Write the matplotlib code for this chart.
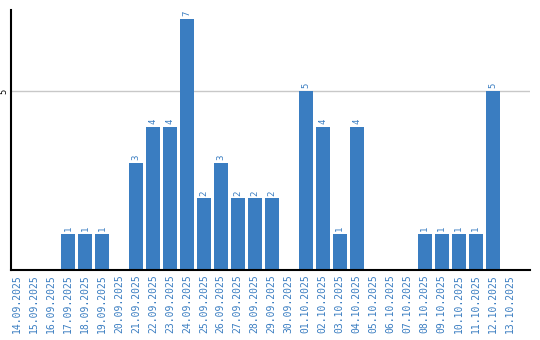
import matplotlib
matplotlib.use('Agg')
import matplotlib.pyplot as plt
import numpy as np

dates = ['14.09.2025', '15.09.2025', '16.09.2025', '17.09.2025', '18.09.2025',
         '19.09.2025', '20.09.2025', '21.09.2025', '22.09.2025', '23.09.2025',
         '24.09.2025', '25.09.2025', '26.09.2025', '27.09.2025', '28.09.2025',
         '29.09.2025', '30.09.2025', '01.10.2025', '02.10.2025', '03.10.2025',
         '04.10.2025', '05.10.2025', '06.10.2025', '07.10.2025', '08.10.2025',
         '09.10.2025', '10.10.2025', '11.10.2025', '12.10.2025', '13.10.2025']
counts = [0, 0, 0, 1, 1, 1, 0, 3, 4, 4, 7, 2, 3, 2, 2, 2, 0, 5, 4, 1, 4,
          0, 0, 0, 1, 1, 1, 1, 5, 0]

blue = '#3a7dc1'
fig = plt.figure(figsize=(5.4, 3.4), dpi=100)
ax = fig.add_axes([11 / 540, 70 / 340, 519 / 540, 260 / 340])

x = np.arange(len(dates))
ax.bar(x, counts, width=0.82, color=blue, zorder=2)
for i, c in enumerate(counts):
    if c > 0:
        ax.text(x[i], c + 0.08, str(c), rotation=90, ha='center', va='bottom',
                fontsize=6.5, color=blue, family='DejaVu Sans Mono')

ax.set_xlim(-0.35, 30.2)
ax.set_ylim(0, 7.26)
ax.set_yticks([5])
ax.set_yticklabels(['5'], rotation=90, va='center', fontsize=6)
ax.yaxis.grid(True, color='#c8c8c8', linewidth=1, zorder=0)
ax.tick_params(axis='y', length=0, pad=2)
ax.set_xticks(x)
ax.set_xticklabels(dates, rotation=90, fontsize=7, color=blue,
                   family='DejaVu Sans Mono')
ax.tick_params(axis='x', length=0, pad=3)
for s in ['top', 'right']:
    ax.spines[s].set_visible(False)
ax.spines['left'].set_linewidth(1.5)
ax.spines['bottom'].set_linewidth(1.5)

fig.savefig('out.png', dpi=100)
